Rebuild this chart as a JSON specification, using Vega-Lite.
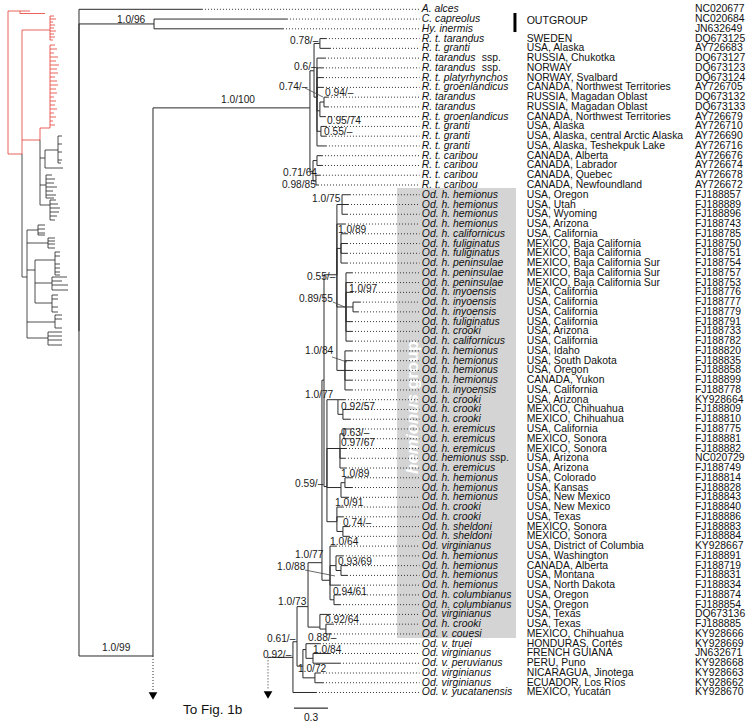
{
"$schema": "https://vega.github.io/schema/vega-lite/v6.json",
"width": 756, "height": 725, "padding": 0, "autosize": "none",
"background": "white",
"config": {"view": {"stroke": null}, "text": {"font": "Liberation Sans"}},
"datasets": {
"edges": [
{"p":0,"pr":33,"c":1.085,"cr":0,"leaf":true},
{"p":0,"pr":33,"c":0.662,"cr":1.5},
{"p":0.662,"pr":1.5,"c":1.835,"cr":1,"leaf":true},
{"p":0.662,"pr":1.5,"c":1.8,"cr":2,"leaf":true},
{"p":0,"pr":33,"c":0.653,"cr":66.26},
{"p":0.653,"pr":66.26,"c":2.038,"cr":10.1},
{"p":2.038,"pr":10.1,"c":2.074,"cr":6.3},
{"p":2.074,"pr":6.3,"c":2.126,"cr":3.5},
{"p":2.126,"pr":3.5,"c":2.179,"cr":3,"leaf":true},
{"p":2.126,"pr":3.5,"c":2.215,"cr":4,"leaf":true},
{"p":2.074,"pr":6.3,"c":2.1,"cr":9},
{"p":2.1,"pr":9,"c":2.171,"cr":5,"leaf":true},
{"p":2.1,"pr":9,"c":2.153,"cr":6,"leaf":true},
{"p":2.1,"pr":9,"c":2.153,"cr":7,"leaf":true},
{"p":2.1,"pr":9,"c":2.153,"cr":8,"leaf":true},
{"p":2.1,"pr":9,"c":2.126,"cr":10.4},
{"p":2.126,"pr":10.4,"c":2.162,"cr":9.5},
{"p":2.162,"pr":9.5,"c":2.197,"cr":9,"leaf":true},
{"p":2.162,"pr":9.5,"c":2.197,"cr":10,"leaf":true},
{"p":2.126,"pr":10.4,"c":2.171,"cr":11,"leaf":true},
{"p":2.1,"pr":9,"c":2.135,"cr":12.5},
{"p":2.135,"pr":12.5,"c":2.179,"cr":12,"leaf":true},
{"p":2.135,"pr":12.5,"c":2.179,"cr":13,"leaf":true},
{"p":2.1,"pr":9,"c":2.179,"cr":14,"leaf":true},
{"p":2.038,"pr":10.1,"c":2.065,"cr":16.6},
{"p":2.065,"pr":16.6,"c":2.1,"cr":15.5},
{"p":2.1,"pr":15.5,"c":2.144,"cr":15,"leaf":true},
{"p":2.1,"pr":15.5,"c":2.144,"cr":16,"leaf":true},
{"p":2.065,"pr":16.6,"c":2.091,"cr":17.6},
{"p":2.091,"pr":17.6,"c":2.126,"cr":17,"leaf":true},
{"p":2.091,"pr":17.6,"c":2.109,"cr":18,"leaf":true},
{"p":1.668,"pr":66.4,"c":1.888,"cr":66.4},
{"p":1.888,"pr":66.4,"c":1.924,"cr":64.8},
{"p":1.888,"pr":66.4,"c":2.091,"cr":70,"leaf":true},
{"p":1.924,"pr":64.8,"c":2.021,"cr":61.2},
{"p":1.924,"pr":64.8,"c":1.976,"cr":67.3},
{"p":1.976,"pr":67.3,"c":2.003,"cr":65.6},
{"p":2.003,"pr":65.6,"c":2.126,"cr":65,"leaf":true},
{"p":2.003,"pr":65.6,"c":2.065,"cr":66.5},
{"p":2.065,"pr":66.5,"c":2.215,"cr":66,"leaf":true},
{"p":2.065,"pr":66.5,"c":2.303,"cr":67,"leaf":true},
{"p":1.976,"pr":67.3,"c":2.082,"cr":68.5},
{"p":2.082,"pr":68.5,"c":2.126,"cr":68,"leaf":true},
{"p":2.082,"pr":68.5,"c":2.153,"cr":69,"leaf":true},
{"p":2.021,"pr":61.2,"c":2.144,"cr":56.7},
{"p":2.021,"pr":61.2,"c":2.126,"cr":63.3},
{"p":2.126,"pr":63.3,"c":2.215,"cr":62,"leaf":true},
{"p":2.126,"pr":63.3,"c":2.179,"cr":63.5},
{"p":2.179,"pr":63.5,"c":2.241,"cr":63,"leaf":true},
{"p":2.179,"pr":63.5,"c":2.224,"cr":64,"leaf":true},
{"p":2.144,"pr":56.7,"c":2.162,"cr":38},
{"p":2.144,"pr":56.7,"c":2.215,"cr":58.5},
{"p":2.162,"pr":38,"c":2.276,"cr":27.2},
{"p":2.162,"pr":38,"c":2.188,"cr":48.9},
{"p":2.276,"pr":27.2,"c":2.321,"cr":20},
{"p":2.321,"pr":20,"c":2.391,"cr":19,"leaf":true},
{"p":2.321,"pr":20,"c":2.374,"cr":20,"leaf":true},
{"p":2.321,"pr":20,"c":2.365,"cr":21,"leaf":true},
{"p":2.276,"pr":27.2,"c":2.347,"cr":22,"leaf":true},
{"p":2.276,"pr":27.2,"c":2.312,"cr":24.5},
{"p":2.312,"pr":24.5,"c":2.365,"cr":23,"leaf":true},
{"p":2.312,"pr":24.5,"c":2.365,"cr":24,"leaf":true},
{"p":2.312,"pr":24.5,"c":2.365,"cr":25,"leaf":true},
{"p":2.312,"pr":24.5,"c":2.365,"cr":26,"leaf":true},
{"p":2.276,"pr":27.2,"c":2.356,"cr":30.5},
{"p":2.356,"pr":30.5,"c":2.409,"cr":27,"leaf":true},
{"p":2.356,"pr":30.5,"c":2.409,"cr":28,"leaf":true},
{"p":2.356,"pr":30.5,"c":2.409,"cr":29,"leaf":true},
{"p":2.356,"pr":30.5,"c":2.418,"cr":30.5},
{"p":2.418,"pr":30.5,"c":2.479,"cr":30,"leaf":true},
{"p":2.418,"pr":30.5,"c":2.462,"cr":31,"leaf":true},
{"p":2.356,"pr":30.5,"c":2.409,"cr":32,"leaf":true},
{"p":2.356,"pr":30.5,"c":2.409,"cr":33,"leaf":true},
{"p":2.356,"pr":30.5,"c":2.409,"cr":34,"leaf":true},
{"p":2.276,"pr":27.2,"c":2.347,"cr":37},
{"p":2.347,"pr":37,"c":2.409,"cr":35,"leaf":true},
{"p":2.347,"pr":37,"c":2.409,"cr":36,"leaf":true},
{"p":2.347,"pr":37,"c":2.409,"cr":37,"leaf":true},
{"p":2.347,"pr":37,"c":2.409,"cr":38,"leaf":true},
{"p":2.347,"pr":37,"c":2.409,"cr":39,"leaf":true},
{"p":2.188,"pr":48.9,"c":2.285,"cr":40},
{"p":2.285,"pr":40,"c":2.347,"cr":40,"leaf":true},
{"p":2.285,"pr":40,"c":2.329,"cr":41.5},
{"p":2.329,"pr":41.5,"c":2.391,"cr":41,"leaf":true},
{"p":2.329,"pr":41.5,"c":2.391,"cr":42,"leaf":true},
{"p":2.188,"pr":48.9,"c":2.303,"cr":45},
{"p":2.303,"pr":45,"c":2.338,"cr":43.5},
{"p":2.338,"pr":43.5,"c":2.391,"cr":43,"leaf":true},
{"p":2.338,"pr":43.5,"c":2.391,"cr":44,"leaf":true},
{"p":2.303,"pr":45,"c":2.356,"cr":45,"leaf":true},
{"p":2.303,"pr":45,"c":2.347,"cr":46,"leaf":true},
{"p":2.303,"pr":45,"c":2.356,"cr":47,"leaf":true},
{"p":2.188,"pr":48.9,"c":2.312,"cr":49},
{"p":2.312,"pr":49,"c":2.347,"cr":48.5},
{"p":2.347,"pr":48.5,"c":2.409,"cr":48,"leaf":true},
{"p":2.347,"pr":48.5,"c":2.409,"cr":49,"leaf":true},
{"p":2.312,"pr":49,"c":2.374,"cr":50,"leaf":true},
{"p":2.188,"pr":48.9,"c":2.276,"cr":52.5},
{"p":2.276,"pr":52.5,"c":2.329,"cr":51,"leaf":true},
{"p":2.276,"pr":52.5,"c":2.329,"cr":52,"leaf":true},
{"p":2.276,"pr":52.5,"c":2.329,"cr":53.5},
{"p":2.329,"pr":53.5,"c":2.382,"cr":53,"leaf":true},
{"p":2.329,"pr":53.5,"c":2.382,"cr":54,"leaf":true},
{"p":2.215,"pr":58.5,"c":2.268,"cr":55,"leaf":true},
{"p":2.215,"pr":58.5,"c":2.268,"cr":57},
{"p":2.268,"pr":57,"c":2.329,"cr":56,"leaf":true},
{"p":2.268,"pr":57,"c":2.312,"cr":57.5},
{"p":2.312,"pr":57.5,"c":2.365,"cr":57,"leaf":true},
{"p":2.312,"pr":57.5,"c":2.365,"cr":58,"leaf":true},
{"p":2.215,"pr":58.5,"c":2.303,"cr":59,"leaf":true},
{"p":2.215,"pr":58.5,"c":2.25,"cr":60.5},
{"p":2.25,"pr":60.5,"c":2.303,"cr":60,"leaf":true},
{"p":2.25,"pr":60.5,"c":2.303,"cr":61,"leaf":true}
],
"leaves": [
{"i":0,"name":"A. alces","country":"","acc":"NC020677"},
{"i":1,"name":"C. capreolus","country":"","acc":"NC020684"},
{"i":2,"name":"Hy. inermis","country":"","acc":"JN632649"},
{"i":3,"name":"R. t. tarandus","country":"SWEDEN","acc":"DQ673125"},
{"i":4,"name":"R. t. granti","country":"USA, Alaska","acc":"AY726683"},
{"i":5,"name":"R. tarandus","suffix":"ssp.","country":"RUSSIA, Chukotka","acc":"DQ673127"},
{"i":6,"name":"R. tarandus","suffix":"ssp.","country":"NORWAY","acc":"DQ673123"},
{"i":7,"name":"R. t. platyrhynchos","country":"NORWAY, Svalbard","acc":"DQ673124"},
{"i":8,"name":"R. t. groenlandicus","country":"CANADA, Northwest Territories","acc":"AY726705"},
{"i":9,"name":"R. tarandus","country":"RUSSIA, Magadan Oblast","acc":"DQ673132"},
{"i":10,"name":"R. tarandus","country":"RUSSIA, Magadan Oblast","acc":"DQ673133"},
{"i":11,"name":"R. t. groenlandicus","country":"CANADA, Northwest Territories","acc":"AY726679"},
{"i":12,"name":"R. t. granti","country":"USA, Alaska","acc":"AY726710"},
{"i":13,"name":"R. t. granti","country":"USA, Alaska, central Arctic Alaska","acc":"AY726690"},
{"i":14,"name":"R. t. granti","country":"USA, Alaska, Teshekpuk Lake","acc":"AY726716"},
{"i":15,"name":"R. t. caribou","country":"CANADA, Alberta","acc":"AY726676"},
{"i":16,"name":"R. t. caribou","country":"CANADA, Labrador","acc":"AY726674"},
{"i":17,"name":"R. t. caribou","country":"CANADA, Quebec","acc":"AY726678"},
{"i":18,"name":"R. t. caribou","country":"CANADA, Newfoundland","acc":"AY726672"},
{"i":19,"name":"Od. h. hemionus","country":"USA, Oregon","acc":"FJ188857"},
{"i":20,"name":"Od. h. hemionus","country":"USA, Utah","acc":"FJ188889"},
{"i":21,"name":"Od. h. hemionus","country":"USA, Wyoming","acc":"FJ188896"},
{"i":22,"name":"Od. h. hemionus","country":"USA, Arizona","acc":"FJ188743"},
{"i":23,"name":"Od. h. californicus","country":"USA, California","acc":"FJ188785"},
{"i":24,"name":"Od. h. fuliginatus","country":"MEXICO, Baja California","acc":"FJ188750"},
{"i":25,"name":"Od. h. fuliginatus","country":"MEXICO, Baja California","acc":"FJ188751"},
{"i":26,"name":"Od. h. peninsulae","country":"MEXICO, Baja California Sur","acc":"FJ188754"},
{"i":27,"name":"Od. h. peninsulae","country":"MEXICO, Baja California Sur","acc":"FJ188757"},
{"i":28,"name":"Od. h. peninsulae","country":"MEXICO, Baja California Sur","acc":"FJ188753"},
{"i":29,"name":"Od. h. inyoensis","country":"USA, California","acc":"FJ188776"},
{"i":30,"name":"Od. h. inyoensis","country":"USA, California","acc":"FJ188777"},
{"i":31,"name":"Od. h. inyoensis","country":"USA, California","acc":"FJ188779"},
{"i":32,"name":"Od. h. fuliginatus","country":"USA, California","acc":"FJ188791"},
{"i":33,"name":"Od. h. crooki","country":"USA, Arizona","acc":"FJ188733"},
{"i":34,"name":"Od. h. californicus","country":"USA, California","acc":"FJ188782"},
{"i":35,"name":"Od. h. hemionus","country":"USA, Idaho","acc":"FJ188820"},
{"i":36,"name":"Od. h. hemionus","country":"USA, South Dakota","acc":"FJ188835"},
{"i":37,"name":"Od. h. hemionus","country":"USA, Oregon","acc":"FJ188858"},
{"i":38,"name":"Od. h. hemionus","country":"CANADA, Yukon","acc":"FJ188899"},
{"i":39,"name":"Od. h. inyoensis","country":"USA, California","acc":"FJ188778"},
{"i":40,"name":"Od. h. crooki","country":"USA, Arizona","acc":"KY928664"},
{"i":41,"name":"Od. h. crooki","country":"MEXICO, Chihuahua","acc":"FJ188809"},
{"i":42,"name":"Od. h. crooki","country":"MEXICO, Chihuahua","acc":"FJ188810"},
{"i":43,"name":"Od. h. eremicus","country":"USA, California","acc":"FJ188775"},
{"i":44,"name":"Od. h. eremicus","country":"MEXICO, Sonora","acc":"FJ188881"},
{"i":45,"name":"Od. h. eremicus","country":"MEXICO, Sonora","acc":"FJ188882"},
{"i":46,"name":"Od. hemionus","suffix":"ssp.","country":"USA, Arizona","acc":"NC020729"},
{"i":47,"name":"Od. h. eremicus","country":"USA, Arizona","acc":"FJ188749"},
{"i":48,"name":"Od. h. hemionus","country":"USA, Colorado","acc":"FJ188814"},
{"i":49,"name":"Od. h. hemionus","country":"USA, Kansas","acc":"FJ188828"},
{"i":50,"name":"Od. h. hemionus","country":"USA, New Mexico","acc":"FJ188843"},
{"i":51,"name":"Od. h. crooki","country":"USA, New Mexico","acc":"FJ188840"},
{"i":52,"name":"Od. h. crooki","country":"USA, Texas","acc":"FJ188886"},
{"i":53,"name":"Od. h. sheldoni","country":"MEXICO, Sonora","acc":"FJ188883"},
{"i":54,"name":"Od. h. sheldoni","country":"MEXICO, Sonora","acc":"FJ188884"},
{"i":55,"name":"Od. virginianus","country":"USA, District of Columbia","acc":"KY928667"},
{"i":56,"name":"Od. h. hemionus","country":"USA, Washington","acc":"FJ188891"},
{"i":57,"name":"Od. h. hemionus","country":"CANADA, Alberta","acc":"FJ188719"},
{"i":58,"name":"Od. h. hemionus","country":"USA, Montana","acc":"FJ188831"},
{"i":59,"name":"Od. h. hemionus","country":"USA, North Dakota","acc":"FJ188834"},
{"i":60,"name":"Od. h. columbianus","country":"USA, Oregon","acc":"FJ188874"},
{"i":61,"name":"Od. h. columbianus","country":"USA, Oregon","acc":"FJ188854"},
{"i":62,"name":"Od. virginianus","country":"USA, Texas","acc":"DQ673136"},
{"i":63,"name":"Od. h. crooki","country":"USA, Texas","acc":"FJ188885"},
{"i":64,"name":"Od. v. couesi","country":"MEXICO, Chihuahua","acc":"KY928666"},
{"i":65,"name":"Od. v. truei","country":"HONDURAS, Cortés","acc":"KY928669"},
{"i":66,"name":"Od. virginianus","country":"FRENCH GUIANA","acc":"JN632671"},
{"i":67,"name":"Od. v. peruvianus","country":"PERU, Puno","acc":"KY928668"},
{"i":68,"name":"Od. virginianus","country":"NICARAGUA, Jinotega","acc":"KY928663"},
{"i":69,"name":"Od. virginianus","country":"ECUADOR, Los Ríos","acc":"KY928662"},
{"i":70,"name":"Od. v. yucatanensis","country":"MEXICO, Yucatán","acc":"KY928670"}
],
"support": [
{"lab":"1.0/96","lx":0.335,"lr":1.1},
{"lab":"1.0/99","lx":0.203,"lr":65.44},
{"lab":"1.0/100","lx":1.253,"lr":9.29},
{"lab":"0.78/–","lx":1.862,"lr":3.22},
{"lab":"0.6/–","lx":1.897,"lr":5.88},
{"lab":"0.74/–","lx":1.765,"lr":7.99},
{"lab":"0.94/–","lx":2.171,"lr":8.61},
{"lab":"0.95/74","lx":2.188,"lr":11.45},
{"lab":"0.55/–","lx":2.162,"lr":12.6},
{"lab":"0.71/64","lx":1.8,"lr":16.8},
{"lab":"0.98/85","lx":1.791,"lr":18.0},
{"lab":"1.0/75","lx":2.056,"lr":19.44},
{"lab":"1.0/89","lx":2.285,"lr":22.61},
{"lab":"0.55/–","lx":2.012,"lr":27.43},
{"lab":"0.89/55","lx":1.941,"lr":29.68},
{"lab":"1.0/97","lx":2.382,"lr":28.66},
{"lab":"1.0/84","lx":1.994,"lr":35.01},
{"lab":"1.0/77","lx":1.994,"lr":39.52},
{"lab":"0.92/57","lx":2.312,"lr":40.75},
{"lab":"0.63/–","lx":2.312,"lr":43.41},
{"lab":"0.97/67","lx":2.312,"lr":44.44},
{"lab":"1.0/89","lx":2.312,"lr":47.61},
{"lab":"0.59/–","lx":1.906,"lr":48.64},
{"lab":"1.0/91","lx":2.259,"lr":50.58},
{"lab":"0.74/–","lx":2.329,"lr":52.63},
{"lab":"1.0/64","lx":2.215,"lr":54.58},
{"lab":"1.0/77","lx":1.906,"lr":55.91},
{"lab":"0.93/69","lx":2.285,"lr":56.63},
{"lab":"1.0/88","lx":1.747,"lr":57.14},
{"lab":"0.94/61","lx":2.241,"lr":59.7},
{"lab":"1.0/73","lx":1.756,"lr":60.73},
{"lab":"0.92/64","lx":2.171,"lr":62.57},
{"lab":"0.61/–","lx":1.659,"lr":64.52},
{"lab":"0.88/–","lx":2.021,"lr":64.45},
{"lab":"1.0/84","lx":2.065,"lr":65.65},
{"lab":"0.92/–","lx":1.624,"lr":66.16},
{"lab":"1.0/72","lx":1.932,"lr":67.59}
],
"leaders": [
{"x1":1.994,"r1":8.06,"x2":2.153,"r2":8.99},
{"x1":2.241,"r1":29.99,"x2":2.365,"r2":30.6},
{"x1":2.232,"r1":35.62,"x2":2.365,"r2":36.14},
{"x1":1.994,"r1":57.45,"x2":2.259,"r2":58.06}
],
"box": [{"x1":2.806,"x2":3.856,"r1":18.31,"r2":64.41}],
"grouplabel": [
{"t":"hemionus","x":2.947,"r":43.5},
{"t":"group","x":2.947,"r":36.45}
],
"outgroup": [{"t":"OUTGROUP","x":3.95,"r":1.17,"bx":3.847,"b1":0.38,"b2":2.33}],
"fig1b": [
{"x":0.653,"r1":66.26,"r2":69.8,"ra":70.35},
{"x":1.668,"r1":66.4,"r2":69.7,"ra":70.25}
],
"notes": [{"t":"To Fig. 1b","x":0.918,"r":71.75}],
"scalebar": [{"x1":1.897,"x2":2.197,"r":71.6,"t":"0.3","tx":2.047,"tr":72.6}],
"mini": [
{"x1":0,"x2":0,"y1":0.4,"y2":57.6,"part":"1a"},
{"x1":0,"x2":1.1,"y1":0.4,"y2":0.4,"part":"1a"},
{"x1":0.6,"x2":0.6,"y1":0.4,"y2":1.4,"part":"1a"},
{"x1":0.6,"x2":1.85,"y1":1.4,"y2":1.4,"part":"1a"},
{"x1":0,"x2":0.7,"y1":57.6,"y2":57.6,"part":"1a"},
{"x1":0.7,"x2":0.7,"y1":8,"y2":57.6,"part":"1a"},
{"x1":0.7,"x2":2.1,"y1":8,"y2":8,"part":"1a"},
{"x1":2.1,"x2":2.1,"y1":2.4,"y2":12,"part":"1a"},
{"x1":2.1,"x2":2.3,"y1":2.4,"y2":2.4,"part":"1a"},
{"x1":2.1,"x2":2.4,"y1":3.6,"y2":3.6,"part":"1a"},
{"x1":2.1,"x2":2.25,"y1":4.8,"y2":4.8,"part":"1a"},
{"x1":2.1,"x2":2.35,"y1":6,"y2":6,"part":"1a"},
{"x1":2.1,"x2":2.3,"y1":7.2,"y2":7.2,"part":"1a"},
{"x1":2.1,"x2":2.4,"y1":8.4,"y2":8.4,"part":"1a"},
{"x1":2.1,"x2":2.3,"y1":9.6,"y2":9.6,"part":"1a"},
{"x1":2.1,"x2":2.35,"y1":10.8,"y2":10.8,"part":"1a"},
{"x1":2.1,"x2":2.25,"y1":12,"y2":12,"part":"1a"},
{"x1":0.7,"x2":1.6,"y1":52,"y2":52,"part":"1a"},
{"x1":1.6,"x2":1.6,"y1":47.2,"y2":52,"part":"1a"},
{"x1":1.6,"x2":2.1,"y1":47.2,"y2":47.2,"part":"1a"},
{"x1":2.1,"x2":2.1,"y1":14,"y2":47.2,"part":"1a"},
{"x1":2.1,"x2":2.35,"y1":14,"y2":14,"part":"1a"},
{"x1":2.1,"x2":2.45,"y1":15.6,"y2":15.6,"part":"1a"},
{"x1":2.1,"x2":2.3,"y1":17.2,"y2":17.2,"part":"1a"},
{"x1":2.1,"x2":2.5,"y1":18.8,"y2":18.8,"part":"1a"},
{"x1":2.1,"x2":2.4,"y1":20.4,"y2":20.4,"part":"1a"},
{"x1":2.1,"x2":2.55,"y1":22,"y2":22,"part":"1a"},
{"x1":2.1,"x2":2.45,"y1":23.6,"y2":23.6,"part":"1a"},
{"x1":2.1,"x2":2.5,"y1":25.2,"y2":25.2,"part":"1a"},
{"x1":2.1,"x2":2.35,"y1":26.8,"y2":26.8,"part":"1a"},
{"x1":2.1,"x2":2.45,"y1":28.4,"y2":28.4,"part":"1a"},
{"x1":2.1,"x2":2.5,"y1":30,"y2":30,"part":"1a"},
{"x1":2.1,"x2":2.4,"y1":31.6,"y2":31.6,"part":"1a"},
{"x1":2.1,"x2":2.45,"y1":33.2,"y2":33.2,"part":"1a"},
{"x1":2.1,"x2":2.3,"y1":34.8,"y2":34.8,"part":"1a"},
{"x1":2.1,"x2":2.4,"y1":36.4,"y2":36.4,"part":"1a"},
{"x1":2.1,"x2":2.35,"y1":38,"y2":38,"part":"1a"},
{"x1":2.1,"x2":2.45,"y1":39.6,"y2":39.6,"part":"1a"},
{"x1":2.1,"x2":2.3,"y1":41.2,"y2":41.2,"part":"1a"},
{"x1":2.1,"x2":2.4,"y1":42.8,"y2":42.8,"part":"1a"},
{"x1":2.1,"x2":2.25,"y1":44.4,"y2":44.4,"part":"1a"},
{"x1":2.1,"x2":2.35,"y1":46,"y2":46,"part":"1a"},
{"x1":0.7,"x2":0.7,"y1":57.6,"y2":106.8,"part":"1b"},
{"x1":1.6,"x2":1.6,"y1":52,"y2":78,"part":"1b"},
{"x1":1.6,"x2":1.85,"y1":59.2,"y2":59.2,"part":"1b"},
{"x1":1.85,"x2":1.85,"y1":56,"y2":63.2,"part":"1b"},
{"x1":1.85,"x2":2.5,"y1":56,"y2":56,"part":"1b"},
{"x1":2.5,"x2":2.5,"y1":50.4,"y2":61.2,"part":"1b"},
{"x1":2.5,"x2":2.7,"y1":50.4,"y2":50.4,"part":"1b"},
{"x1":2.5,"x2":2.7,"y1":53.6,"y2":53.6,"part":"1b"},
{"x1":2.5,"x2":2.7,"y1":56.8,"y2":56.8,"part":"1b"},
{"x1":2.5,"x2":2.7,"y1":60,"y2":60,"part":"1b"},
{"x1":2.5,"x2":2.65,"y1":61.2,"y2":61.2,"part":"1b"},
{"x1":1.85,"x2":2.75,"y1":63.2,"y2":63.2,"part":"1b"},
{"x1":1.6,"x2":1.9,"y1":70,"y2":70,"part":"1b"},
{"x1":1.9,"x2":1.9,"y1":66,"y2":75.2,"part":"1b"},
{"x1":1.9,"x2":2.2,"y1":66,"y2":66,"part":"1b"},
{"x1":1.9,"x2":2.35,"y1":67.6,"y2":67.6,"part":"1b"},
{"x1":1.9,"x2":2.3,"y1":69.2,"y2":69.2,"part":"1b"},
{"x1":1.9,"x2":2.45,"y1":70.8,"y2":70.8,"part":"1b"},
{"x1":1.9,"x2":2.25,"y1":72.4,"y2":72.4,"part":"1b"},
{"x1":1.9,"x2":2.4,"y1":74,"y2":74,"part":"1b"},
{"x1":1.9,"x2":2.3,"y1":75.2,"y2":75.2,"part":"1b"},
{"x1":1.6,"x2":2.1,"y1":78,"y2":78,"part":"1b"},
{"x1":2.1,"x2":2.1,"y1":76,"y2":84,"part":"1b"},
{"x1":2.1,"x2":2.4,"y1":76,"y2":76,"part":"1b"},
{"x1":2.1,"x2":2.5,"y1":77.6,"y2":77.6,"part":"1b"},
{"x1":2.1,"x2":2.6,"y1":79.2,"y2":79.2,"part":"1b"},
{"x1":2.1,"x2":2.55,"y1":80.8,"y2":80.8,"part":"1b"},
{"x1":2.1,"x2":2.45,"y1":82.4,"y2":82.4,"part":"1b"},
{"x1":2.1,"x2":2.35,"y1":84,"y2":84,"part":"1b"},
{"x1":0.7,"x2":0.95,"y1":106.8,"y2":106.8,"part":"1b"},
{"x1":0.95,"x2":0.95,"y1":88,"y2":131.2,"part":"1b"},
{"x1":0.95,"x2":1.5,"y1":88,"y2":88,"part":"1b"},
{"x1":1.5,"x2":1.5,"y1":86,"y2":90,"part":"1b"},
{"x1":1.5,"x2":1.85,"y1":86,"y2":86,"part":"1b"},
{"x1":1.5,"x2":1.85,"y1":87.6,"y2":87.6,"part":"1b"},
{"x1":1.5,"x2":1.85,"y1":89.2,"y2":89.2,"part":"1b"},
{"x1":1.5,"x2":1.85,"y1":90,"y2":90,"part":"1b"},
{"x1":0.95,"x2":2.0,"y1":93.2,"y2":93.2,"part":"1b"},
{"x1":2.0,"x2":2.0,"y1":91.2,"y2":95.2,"part":"1b"},
{"x1":2.0,"x2":2.35,"y1":91.2,"y2":91.2,"part":"1b"},
{"x1":2.0,"x2":2.35,"y1":92.4,"y2":92.4,"part":"1b"},
{"x1":2.0,"x2":2.35,"y1":93.6,"y2":93.6,"part":"1b"},
{"x1":2.0,"x2":2.35,"y1":95.2,"y2":95.2,"part":"1b"},
{"x1":0.95,"x2":1.35,"y1":104,"y2":104,"part":"1b"},
{"x1":1.35,"x2":1.35,"y1":100,"y2":117.2,"part":"1b"},
{"x1":1.35,"x2":2.35,"y1":100,"y2":100,"part":"1b"},
{"x1":2.35,"x2":2.35,"y1":96.8,"y2":106,"part":"1b"},
{"x1":2.35,"x2":2.6,"y1":96.8,"y2":96.8,"part":"1b"},
{"x1":2.35,"x2":2.6,"y1":98.4,"y2":98.4,"part":"1b"},
{"x1":2.35,"x2":2.6,"y1":101.6,"y2":101.6,"part":"1b"},
{"x1":2.35,"x2":2.6,"y1":103.2,"y2":103.2,"part":"1b"},
{"x1":2.35,"x2":2.6,"y1":104.8,"y2":104.8,"part":"1b"},
{"x1":2.35,"x2":2.6,"y1":106,"y2":106,"part":"1b"},
{"x1":1.35,"x2":2.2,"y1":109.2,"y2":109.2,"part":"1b"},
{"x1":2.2,"x2":2.2,"y1":106.8,"y2":112,"part":"1b"},
{"x1":2.2,"x2":2.95,"y1":106.8,"y2":106.8,"part":"1b"},
{"x1":2.2,"x2":2.7,"y1":108.4,"y2":108.4,"part":"1b"},
{"x1":2.2,"x2":3.0,"y1":110,"y2":110,"part":"1b"},
{"x1":2.2,"x2":3.0,"y1":112,"y2":112,"part":"1b"},
{"x1":1.35,"x2":2.2,"y1":117.2,"y2":117.2,"part":"1b"},
{"x1":2.2,"x2":2.2,"y1":114,"y2":120.8,"part":"1b"},
{"x1":2.2,"x2":2.5,"y1":114,"y2":114,"part":"1b"},
{"x1":2.2,"x2":2.5,"y1":115.6,"y2":115.6,"part":"1b"},
{"x1":2.2,"x2":2.5,"y1":118.8,"y2":118.8,"part":"1b"},
{"x1":2.2,"x2":2.5,"y1":120.8,"y2":120.8,"part":"1b"},
{"x1":0.95,"x2":2.35,"y1":124.8,"y2":124.8,"part":"1b"},
{"x1":2.35,"x2":2.35,"y1":122,"y2":127.2,"part":"1b"},
{"x1":2.35,"x2":2.7,"y1":122,"y2":122,"part":"1b"},
{"x1":2.35,"x2":2.7,"y1":123.6,"y2":123.6,"part":"1b"},
{"x1":2.35,"x2":2.7,"y1":127.2,"y2":127.2,"part":"1b"},
{"x1":0.95,"x2":2.0,"y1":131.2,"y2":131.2,"part":"1b"},
{"x1":2.0,"x2":2.0,"y1":128.8,"y2":134,"part":"1b"},
{"x1":2.0,"x2":2.7,"y1":128.8,"y2":128.8,"part":"1b"},
{"x1":2.0,"x2":2.7,"y1":130.4,"y2":130.4,"part":"1b"},
{"x1":2.0,"x2":2.7,"y1":132,"y2":132,"part":"1b"},
{"x1":2.0,"x2":2.7,"y1":134,"y2":134,"part":"1b"}
]
},
"layer": [
{
"layer": [
{"data": {"name": "box"}, "mark": {"type": "rect", "color": "#d4d4d4"},
 "encoding": {
  "x": {"field": "x1", "type": "quantitative", "scale": {"domain": [-0.697, 5.974], "nice": false, "zero": false}, "axis": null},
  "x2": {"field": "x2"},
  "y": {"field": "r1", "type": "quantitative", "scale": {"domain": [-0.953, 73.33], "nice": false, "zero": false, "reverse": true}, "axis": null},
  "y2": {"field": "r2"}}},
{"data": {"name": "grouplabel"}, "transform": [{"filter": "datum.t == 'hemionus'"}],
 "mark": {"type": "text", "angle": 270, "align": "center", "baseline": "middle", "fontSize": 17, "fontWeight": "bold", "fontStyle": "italic", "color": "white"},
 "encoding": {"x": {"field": "x", "type": "quantitative", "scale": {"domain": [-0.697, 5.974], "nice": false, "zero": false}, "axis": null},
  "y": {"field": "r", "type": "quantitative", "scale": {"domain": [-0.953, 73.33], "nice": false, "zero": false, "reverse": true}, "axis": null},
  "text": {"field": "t"}}},
{"data": {"name": "grouplabel"}, "transform": [{"filter": "datum.t == 'group'"}],
 "mark": {"type": "text", "angle": 270, "align": "center", "baseline": "middle", "fontSize": 17, "fontWeight": "bold", "color": "white"},
 "encoding": {"x": {"field": "x", "type": "quantitative", "scale": {"domain": [-0.697, 5.974], "nice": false, "zero": false}, "axis": null},
  "y": {"field": "r", "type": "quantitative", "scale": {"domain": [-0.953, 73.33], "nice": false, "zero": false, "reverse": true}, "axis": null},
  "text": {"field": "t"}}},
{"data": {"name": "edges"}, "transform": [{"filter": "datum.leaf == true"}],
 "mark": {"type": "rule", "color": "#333333", "strokeWidth": 1, "strokeDash": [1, 2]},
 "encoding": {"x": {"field": "c", "type": "quantitative", "scale": {"domain": [-0.697, 5.974], "nice": false, "zero": false}, "axis": null},
  "x2": {"datum": 3.005},
  "y": {"field": "cr", "type": "quantitative", "scale": {"domain": [-0.953, 73.33], "nice": false, "zero": false, "reverse": true}, "axis": null}}},
{"data": {"name": "edges"},
 "mark": {"type": "rule", "color": "#2a2a2a", "strokeWidth": 1},
 "encoding": {"x": {"field": "p", "type": "quantitative", "scale": {"domain": [-0.697, 5.974], "nice": false, "zero": false}, "axis": null},
  "y": {"field": "pr", "type": "quantitative", "scale": {"domain": [-0.953, 73.33], "nice": false, "zero": false, "reverse": true}, "axis": null},
  "y2": {"field": "cr"}}},
{"data": {"name": "edges"},
 "mark": {"type": "rule", "color": "#2a2a2a", "strokeWidth": 1},
 "encoding": {"x": {"field": "p", "type": "quantitative", "scale": {"domain": [-0.697, 5.974], "nice": false, "zero": false}, "axis": null},
  "x2": {"field": "c"},
  "y": {"field": "cr", "type": "quantitative", "scale": {"domain": [-0.953, 73.33], "nice": false, "zero": false, "reverse": true}, "axis": null}}},
{"data": {"name": "fig1b"},
 "mark": {"type": "rule", "color": "#2a2a2a", "strokeWidth": 1, "strokeDash": [1, 2]},
 "encoding": {"x": {"field": "x", "type": "quantitative", "scale": {"domain": [-0.697, 5.974], "nice": false, "zero": false}, "axis": null},
  "y": {"field": "r1", "type": "quantitative", "scale": {"domain": [-0.953, 73.33], "nice": false, "zero": false, "reverse": true}, "axis": null},
  "y2": {"field": "r2"}}},
{"data": {"name": "fig1b"},
 "mark": {"type": "point", "shape": "triangle-down", "filled": true, "color": "black", "size": 75, "opacity": 1},
 "encoding": {"x": {"field": "x", "type": "quantitative", "scale": {"domain": [-0.697, 5.974], "nice": false, "zero": false}, "axis": null},
  "y": {"field": "ra", "type": "quantitative", "scale": {"domain": [-0.953, 73.33], "nice": false, "zero": false, "reverse": true}, "axis": null}}},
{"data": {"name": "leaders"},
 "mark": {"type": "rule", "color": "#444444", "strokeWidth": 0.8},
 "encoding": {"x": {"field": "x1", "type": "quantitative", "scale": {"domain": [-0.697, 5.974], "nice": false, "zero": false}, "axis": null},
  "x2": {"field": "x2"},
  "y": {"field": "r1", "type": "quantitative", "scale": {"domain": [-0.953, 73.33], "nice": false, "zero": false, "reverse": true}, "axis": null},
  "y2": {"field": "r2"}}},
{"data": {"name": "support"},
 "mark": {"type": "text", "align": "left", "baseline": "middle", "fontSize": 10.2, "color": "#1a1a1a"},
 "encoding": {"x": {"field": "lx", "type": "quantitative", "scale": {"domain": [-0.697, 5.974], "nice": false, "zero": false}, "axis": null},
  "y": {"field": "lr", "type": "quantitative", "scale": {"domain": [-0.953, 73.33], "nice": false, "zero": false, "reverse": true}, "axis": null},
  "text": {"field": "lab"}}},
{"data": {"name": "leaves"},
 "mark": {"type": "text", "align": "left", "baseline": "middle", "fontSize": 10.4, "fontStyle": "italic", "color": "#111111"},
 "encoding": {"x": {"datum": 3.025, "type": "quantitative", "scale": {"domain": [-0.697, 5.974], "nice": false, "zero": false}, "axis": null},
  "y": {"field": "i", "type": "quantitative", "scale": {"domain": [-0.953, 73.33], "nice": false, "zero": false, "reverse": true}, "axis": null},
  "text": {"field": "name"}}},
{"data": {"name": "leaves"}, "transform": [{"filter": "datum.suffix == 'ssp.' && datum.name == 'R. tarandus'"}],
 "mark": {"type": "text", "align": "left", "baseline": "middle", "fontSize": 10.4, "color": "#111111", "dx": 60},
 "encoding": {"x": {"datum": 3.025, "type": "quantitative", "scale": {"domain": [-0.697, 5.974], "nice": false, "zero": false}, "axis": null},
  "y": {"field": "i", "type": "quantitative", "scale": {"domain": [-0.953, 73.33], "nice": false, "zero": false, "reverse": true}, "axis": null},
  "text": {"field": "suffix"}}},
{"data": {"name": "leaves"}, "transform": [{"filter": "datum.suffix == 'ssp.' && datum.name == 'Od. hemionus'"}],
 "mark": {"type": "text", "align": "left", "baseline": "middle", "fontSize": 10.4, "color": "#111111", "dx": 68},
 "encoding": {"x": {"datum": 3.025, "type": "quantitative", "scale": {"domain": [-0.697, 5.974], "nice": false, "zero": false}, "axis": null},
  "y": {"field": "i", "type": "quantitative", "scale": {"domain": [-0.953, 73.33], "nice": false, "zero": false, "reverse": true}, "axis": null},
  "text": {"field": "suffix"}}},
{"data": {"name": "leaves"},
 "mark": {"type": "text", "align": "left", "baseline": "middle", "fontSize": 10.4, "color": "#111111"},
 "encoding": {"x": {"datum": 3.95, "type": "quantitative", "scale": {"domain": [-0.697, 5.974], "nice": false, "zero": false}, "axis": null},
  "y": {"field": "i", "type": "quantitative", "scale": {"domain": [-0.953, 73.33], "nice": false, "zero": false, "reverse": true}, "axis": null},
  "text": {"field": "country"}}},
{"data": {"name": "leaves"},
 "mark": {"type": "text", "align": "left", "baseline": "middle", "fontSize": 10.4, "color": "#111111"},
 "encoding": {"x": {"datum": 5.435, "type": "quantitative", "scale": {"domain": [-0.697, 5.974], "nice": false, "zero": false}, "axis": null},
  "y": {"field": "i", "type": "quantitative", "scale": {"domain": [-0.953, 73.33], "nice": false, "zero": false, "reverse": true}, "axis": null},
  "text": {"field": "acc"}}},
{"data": {"name": "outgroup"},
 "mark": {"type": "rule", "color": "black", "strokeWidth": 3},
 "encoding": {"x": {"field": "bx", "type": "quantitative", "scale": {"domain": [-0.697, 5.974], "nice": false, "zero": false}, "axis": null},
  "y": {"field": "b1", "type": "quantitative", "scale": {"domain": [-0.953, 73.33], "nice": false, "zero": false, "reverse": true}, "axis": null},
  "y2": {"field": "b2"}}},
{"data": {"name": "outgroup"},
 "mark": {"type": "text", "align": "left", "baseline": "middle", "fontSize": 10.6, "color": "#111111"},
 "encoding": {"x": {"field": "x", "type": "quantitative", "scale": {"domain": [-0.697, 5.974], "nice": false, "zero": false}, "axis": null},
  "y": {"field": "r", "type": "quantitative", "scale": {"domain": [-0.953, 73.33], "nice": false, "zero": false, "reverse": true}, "axis": null},
  "text": {"field": "t"}}},
{"data": {"name": "notes"},
 "mark": {"type": "text", "align": "left", "baseline": "middle", "fontSize": 13.5, "color": "#111111"},
 "encoding": {"x": {"field": "x", "type": "quantitative", "scale": {"domain": [-0.697, 5.974], "nice": false, "zero": false}, "axis": null},
  "y": {"field": "r", "type": "quantitative", "scale": {"domain": [-0.953, 73.33], "nice": false, "zero": false, "reverse": true}, "axis": null},
  "text": {"field": "t"}}},
{"data": {"name": "scalebar"},
 "mark": {"type": "rule", "color": "black", "strokeWidth": 1},
 "encoding": {"x": {"field": "x1", "type": "quantitative", "scale": {"domain": [-0.697, 5.974], "nice": false, "zero": false}, "axis": null},
  "x2": {"field": "x2"},
  "y": {"field": "r", "type": "quantitative", "scale": {"domain": [-0.953, 73.33], "nice": false, "zero": false, "reverse": true}, "axis": null}}},
{"data": {"name": "scalebar"},
 "mark": {"type": "text", "align": "center", "baseline": "middle", "fontSize": 10.2, "color": "#111111"},
 "encoding": {"x": {"field": "tx", "type": "quantitative", "scale": {"domain": [-0.697, 5.974], "nice": false, "zero": false}, "axis": null},
  "y": {"field": "tr", "type": "quantitative", "scale": {"domain": [-0.953, 73.33], "nice": false, "zero": false, "reverse": true}, "axis": null},
  "text": {"field": "t"}}}
]
},
{
"layer": [
{"data": {"name": "mini"},
 "mark": {"type": "rule", "strokeWidth": 0.8},
 "encoding": {"x": {"field": "x1", "type": "quantitative", "scale": {"domain": [-0.4, 37.4], "nice": false, "zero": false}, "axis": null},
  "x2": {"field": "x2"},
  "y": {"field": "y1", "type": "quantitative", "scale": {"domain": [-4, 286], "nice": false, "zero": false, "reverse": true}, "axis": null},
  "y2": {"field": "y2"},
  "color": {"field": "part", "type": "nominal", "scale": {"domain": ["1a", "1b"], "range": ["#e53a30", "#222222"]}, "legend": null}}}
]
}
],
"resolve": {"scale": {"x": "independent", "y": "independent"}}
}
